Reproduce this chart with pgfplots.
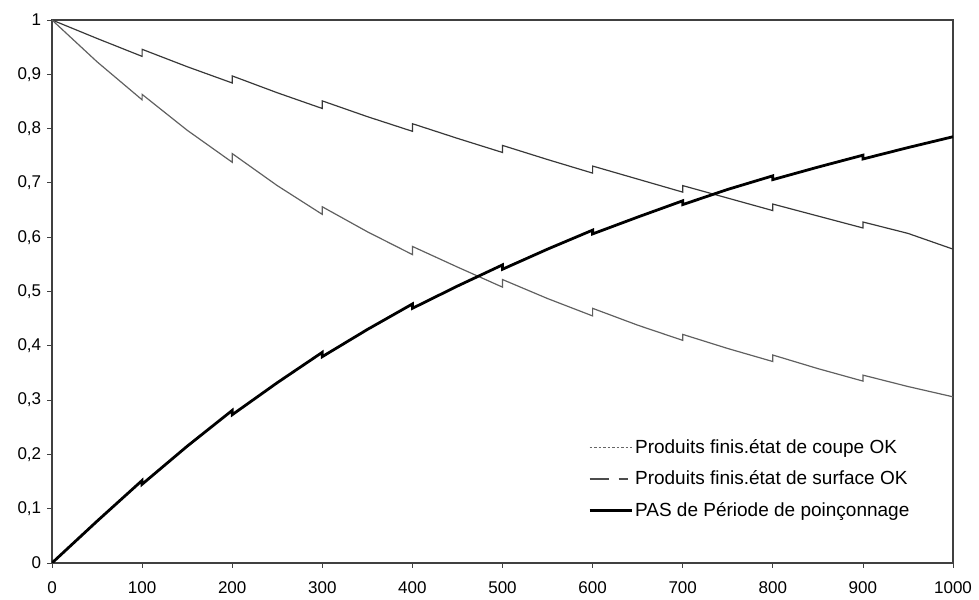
\documentclass[border=0pt]{standalone}
\usepackage{fontspec}
\setmainfont{Liberation Sans}
\usepackage{pgfplots}
\pgfplotsset{compat=1.18}
\definecolor{axcol}{gray}{0.25}
\begin{document}
\fontsize{17bp}{20bp}\selectfont
\begin{tikzpicture}[x=1bp,y=1bp]
\useasboundingbox (-52,-37) rectangle (927,563);
\begin{axis}[
  at={(0,0)}, anchor=south west,
  scale only axis, width=901bp, height=543bp,
  xmin=0, xmax=1000, ymin=0, ymax=1,
  xtick={0,100,200,300,400,500,600,700,800,900,1000},
  ytick={0,0.1,0.2,0.3,0.4,0.5,0.6,0.7,0.8,0.9,1},
  xtick pos=bottom, ytick pos=left,
  tick align=outside, major tick length=5bp,
  axis line style={axcol, line width=1.3pt},
  every tick/.style={axcol, line width=0.8pt},
  /pgf/number format/.cd, use comma, 1000 sep={}, assume math mode=true, fixed, precision=1,
  /pgfplots/.cd,
  ticklabel style={font=\fontsize{17bp}{20bp}\selectfont, text=black},
  xticklabel style={yshift=-8bp},
  legend style={draw=none, fill=none, at={(0.595,0.232)}, anchor=north west,
    font=\fontsize{19bp}{22bp}\selectfont, row sep=11bp, inner sep=0pt},
  legend cell align=left,
  legend image code/.code={\draw[#1] (0bp,0bp) -- (42bp,0bp);},
]
\addlegendimage{gray!80!black, line width=1.1pt, dash pattern=on 2.5bp off 2bp}
\addlegendentry{Produits finis.état de coupe OK}
\addlegendimage{gray!60!black, line width=1.3pt, dash pattern=on 19bp off 10bp on 9bp off 20bp}
\addlegendentry{Produits finis.état de surface OK}
\addlegendimage{black, line width=2.8pt}
\addlegendentry{PAS de Période de poinçonnage}

% upper thin curve
\addplot[forget plot, black!78, line width=1.2pt] coordinates {
(0,1) (50,0.966) (100,0.933) (100,0.946) (150,0.914) (200,0.884) (200,0.897)
(250,0.866) (300,0.837) (300,0.851) (350,0.822) (400,0.795) (400,0.809)
(450,0.782) (500,0.756) (500,0.769) (550,0.743) (600,0.718) (600,0.731)
(650,0.707) (700,0.683) (700,0.695) (750,0.672) (800,0.649) (800,0.661)
(850,0.639) (900,0.617) (900,0.628) (950,0.607) (1000,0.578)};
% middle gray curve
\addplot[forget plot, gray!75!black, line width=1.2pt] coordinates {
(0,1) (50,0.923) (100,0.853) (100,0.863) (150,0.797) (200,0.738) (200,0.754)
(250,0.695) (300,0.642) (300,0.656) (350,0.610) (400,0.568) (400,0.583)
(450,0.545) (500,0.508) (500,0.522) (550,0.487) (600,0.455) (600,0.469)
(650,0.438) (700,0.410) (700,0.421) (750,0.395) (800,0.371) (800,0.383)
(850,0.358) (900,0.335) (900,0.346) (950,0.325) (1000,0.306)};
% thick black curve
\addplot[forget plot, black, line width=2.8pt] coordinates {
(0,0) (50,0.077) (100,0.152) (100,0.145) (150,0.215) (200,0.281) (200,0.273)
(250,0.332) (300,0.388) (300,0.380) (350,0.430) (400,0.477) (400,0.469)
(450,0.510) (500,0.549) (500,0.541) (550,0.578) (600,0.613) (600,0.606)
(650,0.637) (700,0.667) (700,0.660) (750,0.688) (800,0.713) (800,0.706)
(850,0.729) (900,0.751) (900,0.744) (950,0.765) (1000,0.785)};
\end{axis}
\end{tikzpicture}
\end{document}
